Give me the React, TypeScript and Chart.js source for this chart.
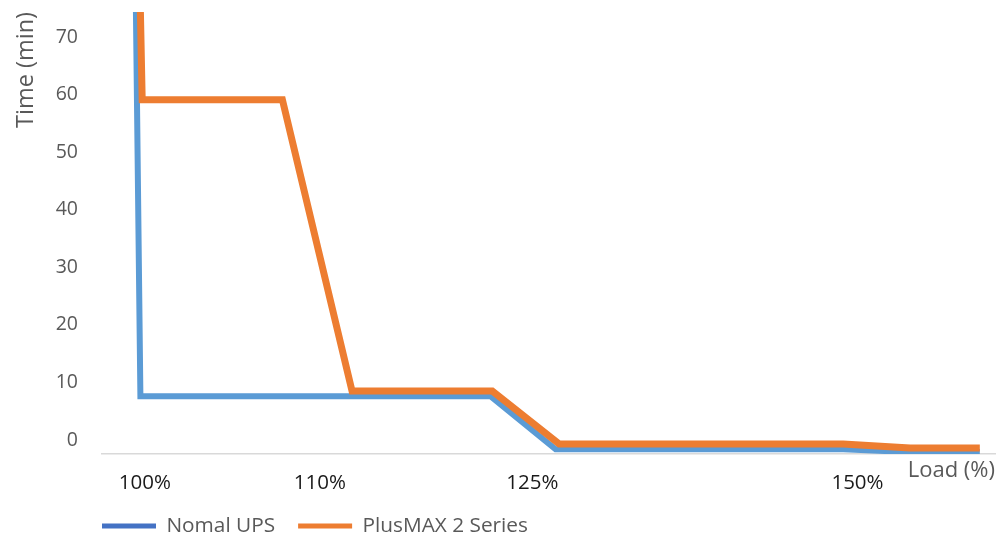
import { useEffect, useRef } from 'react';
import { Chart, registerables } from 'chart.js';

Chart.register(...registerables);

// ---- data (x positions on an abstract 0–100 track, y in minutes) ----
const SERIES_NAMES = ['Nomal UPS', 'PlusMAX 2 Series'];
const NORMAL_X = [3.8, 4.3, 43.5, 50.8, 83.0, 90.5, 98.3];
const NORMAL_Y = [74.4, 7.6, 7.6, -1.6, -1.6, -2.1, -2.1];
const PLUS_X = [4.3, 4.5, 20.2, 28.0, 43.7, 51.2, 83.0, 90.5, 98.3];
const PLUS_Y = [74.4, 59.1, 59.1, 8.5, 8.5, -0.7, -0.7, -1.4, -1.4];
const X_TICK_POS = [4.8, 24.4, 48.2, 84.6];
const X_TICK_LABELS = ['100%', '110%', '125%', '150%'];
const Y_TICKS = [0, 10, 20, 30, 40, 50, 60, 70];
const X_TITLE = 'Load (%)';
const Y_TITLE = 'Time (min)';

const FONT = "'Open Sans', sans-serif";

export default function App() {
  const ref = useRef<HTMLCanvasElement | null>(null);

  useEffect(() => {
    document.body.style.margin = '0';
    const canvas = ref.current;
    if (!canvas) return;

    const legendPos = {
      id: 'legendPos',
      afterLayout(chart: any) {
        const lg = chart.legend;
        if (!lg) return;
        const pad = 24;
        lg.left = chart.chartArea.left + 1 - pad;
        lg.right = lg.left + chart.chartArea.width;
        lg.width = lg.right - lg.left;
        lg.top = chart.chartArea.bottom + 62.5 - pad;
        lg.height = 70;
        lg.bottom = lg.top + lg.height;
      },
    };

    const chart = new Chart(canvas, {
      type: 'line',
      data: {
        datasets: [
          {
            label: SERIES_NAMES[0],
            data: NORMAL_X.map((x, i) => ({ x, y: NORMAL_Y[i] })),
            borderColor: '#5B9BD5',
            backgroundColor: '#4472C4',
            borderWidth: 6,
            pointRadius: 0,
            tension: 0,
            borderJoinStyle: 'miter',
            order: 1,
          },
          {
            label: SERIES_NAMES[1],
            data: PLUS_X.map((x, i) => ({ x, y: PLUS_Y[i] })),
            borderColor: '#ED7D31',
            backgroundColor: '#ED7D31',
            borderWidth: 7,
            pointRadius: 0,
            tension: 0,
            borderJoinStyle: 'miter',
            order: 0,
          },
        ],
      },
      options: {
        animation: false,
        responsive: false,
        layout: { padding: { left: 0, right: 2, top: 12, bottom: 0 } },
        plugins: {
          tooltip: { enabled: false },
          legend: {
            display: true,
            position: 'bottom',
            align: 'start',
            fullSize: false,
            maxHeight: 1,
            labels: {
              boxWidth: 54,
              boxHeight: 5,
              padding: 23,
              color: '#595959',
              font: { family: FONT, size: 20.8 },
              sort: (a: any, b: any) => a.datasetIndex - b.datasetIndex,
              generateLabels: (c: any) =>
                (Chart.defaults.plugins.legend.labels as any)
                  .generateLabels(c)
                  .map((l: any) => ({ ...l, lineWidth: 0 })),
            },
          },
        },
        scales: {
          x: {
            type: 'linear',
            min: 0,
            max: 100,
            grid: { display: false },
            border: { display: true, color: '#D9D9D9', width: 1.5 },
            afterFit: (s: any) => {
              s.height = 83;
            },
            afterBuildTicks: (s: any) => {
              s.ticks = X_TICK_POS.map((v) => ({ value: v }));
            },
            ticks: {
              autoSkip: false,
              maxRotation: 0,
              padding: 9,
              color: '#1a1a1a',
              font: { family: FONT, size: 20.5 },
              callback: (_v: any, i: number) => X_TICK_LABELS[i],
            },
            title: {
              display: true,
              text: X_TITLE,
              align: 'end',
              color: '#595959',
              font: { family: FONT, size: 22 },
              padding: { top: 0, bottom: 53 },
            },
          },
          y: {
            type: 'linear',
            min: -2.43,
            max: 74.35,
            grid: {
              display: true,
              drawOnChartArea: false,
              drawTicks: true,
              tickLength: 24,
              color: 'rgba(0,0,0,0)',
            },
            border: { display: false },
            afterFit: (s: any) => {
              s.width = 102;
            },
            afterBuildTicks: (s: any) => {
              s.ticks = Y_TICKS.map((v) => ({ value: v }));
            },
            ticks: {
              padding: 0,
              color: '#595959',
              font: { family: FONT, size: 19.5 },
            },
            title: {
              display: true,
              text: Y_TITLE,
              align: 'end',
              color: '#595959',
              font: { family: FONT, size: 23.5 },
              padding: { top: 12, bottom: 0 },
            },
          },
        },
      } as any,
      plugins: [legendPos],
    });

    return () => chart.destroy();
  }, []);

  return (
    <div style={{ width: 997, height: 538 }}>
      <canvas ref={ref} width={997} height={538} style={{ display: 'block' }} />
    </div>
  );
}
